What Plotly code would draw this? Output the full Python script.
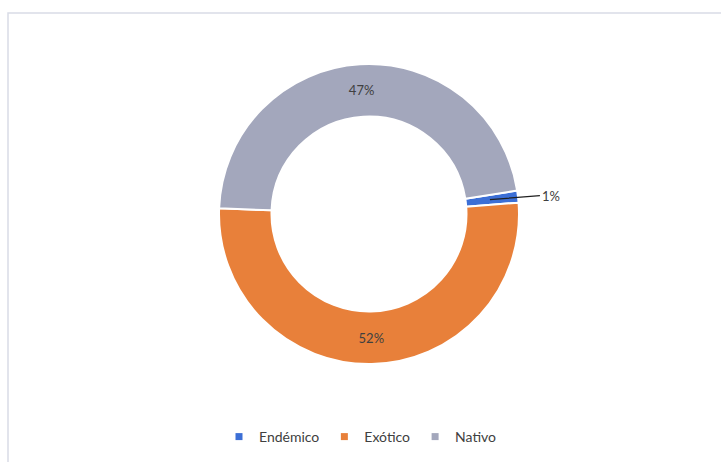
import math
import plotly.graph_objects as go

labels = ["Endémico", "Exótico", "Nativo"]
values = [1.3, 51.8, 46.9]
colors = ["#3C6FD6", "#E8803A", "#A3A7BC"]
text_pos = ["none", "inside", "inside"]

W, H = 721, 462
cx, cy, r = 369, 214, 150
rotation = 81
hole = 0.65
FONT = "Lato, 'Open Sans', sans-serif"

fig = go.Figure(go.Pie(
    labels=labels,
    values=values,
    hole=hole,
    sort=False,
    direction="clockwise",
    rotation=rotation,
    marker=dict(colors=colors, line=dict(color="white", width=2)),
    textinfo="percent",
    texttemplate="%{percent:.0%}",
    textposition=text_pos,
    insidetextorientation="horizontal",
    textfont=dict(family=FONT, size=13, color="#404040"),
    domain=dict(x=[(cx - r) / W, (cx + r) / W], y=[(H - cy - r) / H, (H - cy + r) / H]),
    hoverinfo="label+percent",
    showlegend=False,
))

# legend entries with small square markers
for lab, col in zip(labels, colors):
    fig.add_trace(go.Scatter(x=[None], y=[None], mode="markers", name=lab,
                             marker=dict(symbol="square", size=7, color=col),
                             hoverinfo="skip"))

# leader-line label for the small slice
total = sum(values)
mid = math.radians(rotation + 360 * values[0] / total / 2)
rr = r * (1 + hole) / 2
tipx = cx + rr * math.sin(mid) - 2
tipy = cy - rr * math.cos(mid)
pct = f"{round(100 * values[0] / total)}%"

fig.update_layout(
    width=W, height=H,
    margin=dict(l=0, r=0, t=0, b=0),
    paper_bgcolor="white",
    plot_bgcolor="white",
    xaxis=dict(visible=False), yaxis=dict(visible=False),
    showlegend=True,
    legend=dict(orientation="h", x=0.5, xanchor="center", y=(H - 437) / H, yanchor="middle",
                font=dict(family=FONT, size=14, color="#404040"),
                itemwidth=30, traceorder="normal"),
    annotations=[dict(xref="paper", yref="paper", x=tipx / W, y=(H - tipy) / H,
                      text=pct, showarrow=True, arrowhead=0, arrowwidth=1.2,
                      arrowcolor="#202020", ax=50, ay=-4, xanchor="left",
                      font=dict(family=FONT, size=13, color="#404040"))],
    shapes=[dict(type="rect", xref="paper", yref="paper",
                 x0=8 / W, x1=1.02, y0=-0.02, y1=(H - 13) / H,
                 line=dict(color="#D9DCE6", width=1.5), fillcolor="rgba(0,0,0,0)")],
)

fig.write_html("out.html")
